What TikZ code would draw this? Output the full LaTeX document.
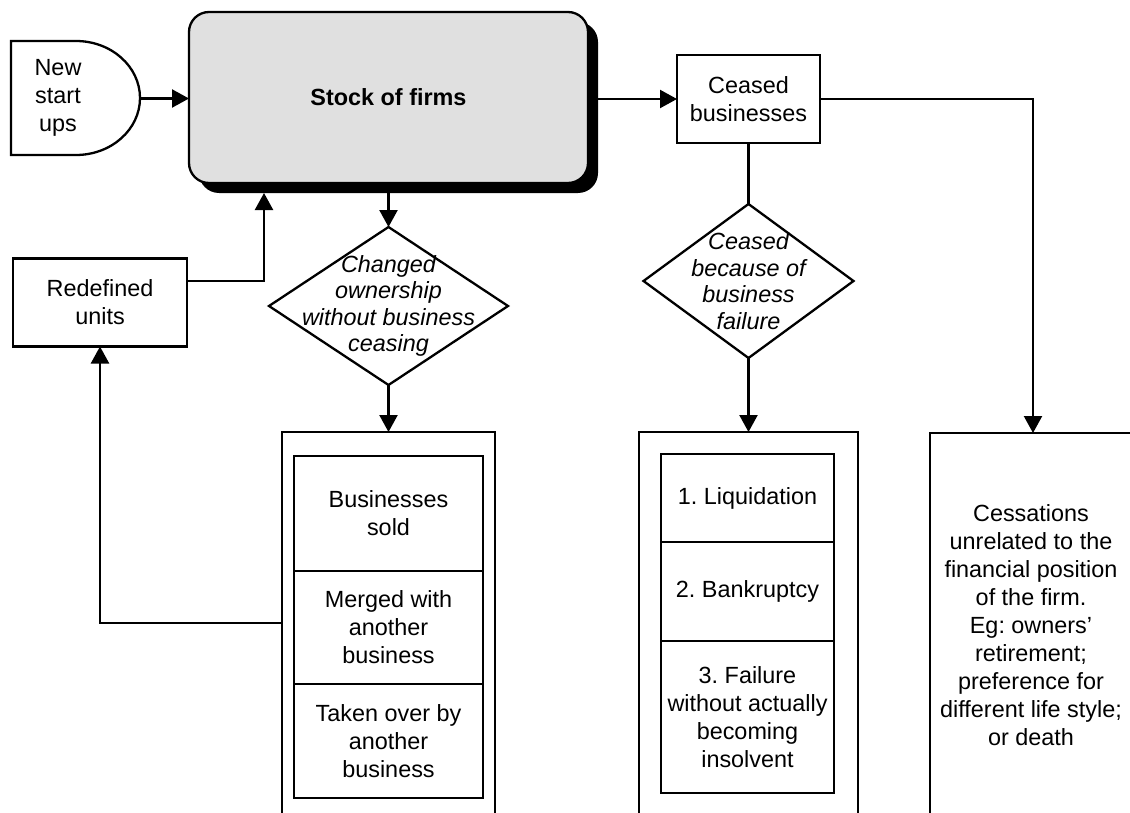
\documentclass[tikz,border=0pt]{standalone}
\usepackage{fontspec}
\setmainfont{Liberation Sans}
\frenchspacing
\usetikzlibrary{positioning,shapes.geometric,shadows,arrows.meta}

\begin{document}
\begin{tikzpicture}[
    x = 0.5pt, y = -0.5pt,
    line width = 1.15pt,
    every node/.style = {font=\fontsize{11.7}{14}\selectfont, align=center, inner sep=0pt, outer sep=0pt},
    box/.style        = {draw, rectangle},
    choice/.style     = {draw, diamond},
    question/.style   = {font=\fontsize{11.7}{13.3}\selectfont\itshape},
    flow/.style       = {draw, -{Triangle[length=8.5pt,width=9pt]}}
  ]
\clip (0,0) rectangle (1130,813);

\draw (11,41) -- (76,41) arc[start angle=-90, end angle=90, x radius=64, y radius=57] -- (11,155) -- cycle;
\node (newstart) at (58,98) {New\\start\\ups};
\coordinate (newtip) at (140,98.5);

\node[box, rounded corners=10pt, fill=black!12, drop shadow={shadow xshift=5pt, shadow yshift=-5pt, opacity=1, fill=black},
      minimum width=199.5pt, minimum height=85.5pt, font=\fontsize{11.7}{14}\selectfont\bfseries] (stock) at (388.5,97.5) {Stock of firms};
\node[box, minimum width=71.5pt, minimum height=44pt] (ceased) at (748.5,99) {Ceased\\businesses};
\node[box, minimum width=87pt, minimum height=44pt] (redef) at (100,302.5) {Redefined\\units};

\node[choice, minimum width=119.5pt, minimum height=79pt,
      label={[question]center:{Changed\\ownership\\without business\\ceasing}}] (chg) at (388.5,306) {};
\node[choice, minimum width=105pt, minimum height=77pt,
      label={[question]center:{Ceased\\because of\\business\\failure}}] (fail) at (748.5,281) {};

\node[box, minimum width=106.5pt, minimum height=195pt] (own) at (388.5,627) {};
\node[box, minimum width=94.5pt, minimum height=57.5pt] (sold) at (388.5,513.5) {Businesses\\sold};
\node[box, minimum width=94.5pt, minimum height=56.5pt, below=0pt of sold] (merged) {Merged with\\another\\business};
\node[box, minimum width=94.5pt, minimum height=57pt, below=0pt of merged] (taken) {Taken over by\\another\\business};

\node[box, minimum width=109.5pt, minimum height=191.5pt] (liq) at (748.5,623.5) {};
\node[box, minimum width=86.5pt, minimum height=44pt] (liqd) at (747.5,498) {1. Liquidation};
\node[box, minimum width=86.5pt, minimum height=49.5pt, below=0pt of liqd] (bank) {2. Bankruptcy};
\node[box, minimum width=86.5pt, minimum height=76pt, below=0pt of bank] (insolv) {3. Failure\\without actually\\becoming\\insolvent};

\node[box, minimum width=101pt, minimum height=192pt] (cess) at (1031,625) {Cessations\\unrelated to the\\financial position\\of the firm.\\Eg: owners'\\retirement;\\preference for\\different life style;\\or death};

\draw[flow] (newtip) -- (newtip -| stock.west);
\draw[flow] (stock.east |- ceased.west) -- (ceased.west);
\draw[flow] ([yshift=-5pt]stock.south) -- (chg.north);
\draw[flow] (chg.south) -- (own.north);
\draw (ceased.south) -- (fail.north);
\draw[flow] (fail.south) -- (liq.north);
\draw[flow] (ceased.east) -| ([xshift=1pt]cess.north);
\draw[flow] ([yshift=10.75pt]redef.east) -| ([xshift=37.5pt, yshift=-5pt]stock.south west);
\draw[flow] ([yshift=-95.5pt]own.north west) -| (redef.south);
\end{tikzpicture}
\end{document}
